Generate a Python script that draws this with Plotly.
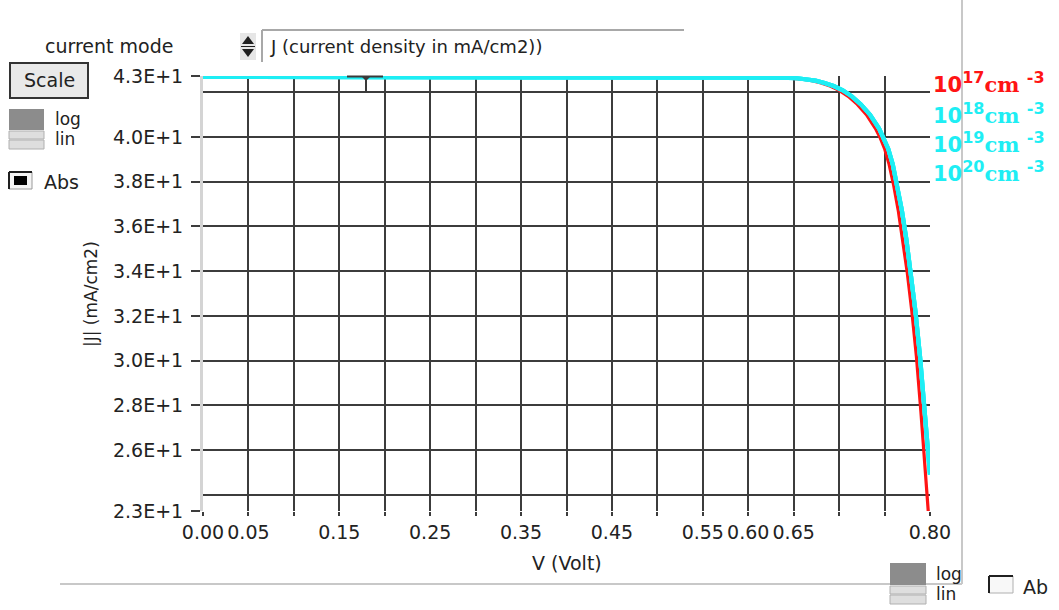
import plotly.graph_objects as go

# J-V curves for four doping levels (V in volts, |J| in mA/cm2)
V_1e17 = [0.00, 0.10, 0.20, 0.30, 0.40, 0.50, 0.60, 0.62, 0.64, 0.65, 0.66, 0.67, 0.68, 0.69,
          0.70, 0.71, 0.72, 0.73, 0.74, 0.745, 0.75, 0.755, 0.76, 0.765, 0.77, 0.775, 0.78,
          0.785, 0.79, 0.795, 0.800]
J_1e17 = [42.69, 42.69, 42.69, 42.69, 42.69, 42.69, 42.68, 42.67, 42.65, 42.63, 42.59, 42.52,
          42.42, 42.28, 42.09, 41.82, 41.46, 41.00, 40.38, 39.98, 39.48, 38.78, 37.85, 36.73,
          35.43, 33.93, 32.20, 30.20, 27.70, 25.00, 22.20]

V_1e18 = [0.00, 0.10, 0.20, 0.30, 0.40, 0.50, 0.60, 0.624, 0.644, 0.654, 0.664, 0.674, 0.684,
          0.694, 0.704, 0.714, 0.724, 0.734, 0.744, 0.749, 0.754, 0.759, 0.764, 0.769, 0.774,
          0.779, 0.784, 0.789, 0.794, 0.800]
J_1e18 = [42.69, 42.69, 42.69, 42.69, 42.69, 42.69, 42.68, 42.67, 42.65, 42.63, 42.59, 42.52,
          42.42, 42.28, 42.09, 41.82, 41.46, 41.00, 40.38, 39.98, 39.48, 38.78, 37.85, 36.73,
          35.43, 33.93, 32.20, 30.20, 27.70, 24.90]

V_1e19 = [0.00, 0.10, 0.20, 0.30, 0.40, 0.50, 0.60, 0.624, 0.644, 0.654, 0.664, 0.674, 0.684,
          0.694, 0.704, 0.714, 0.724, 0.734, 0.744, 0.749, 0.754, 0.759, 0.764, 0.769, 0.774,
          0.779, 0.784, 0.789, 0.794, 0.800]
J_1e19 = [42.69, 42.69, 42.69, 42.69, 42.69, 42.69, 42.68, 42.67, 42.65, 42.63, 42.59, 42.52,
          42.42, 42.28, 42.09, 41.82, 41.46, 41.00, 40.38, 39.98, 39.48, 38.78, 37.85, 36.73,
          35.43, 33.93, 32.20, 30.20, 27.70, 24.90]

V_1e20 = [0.00, 0.10, 0.20, 0.30, 0.40, 0.50, 0.60, 0.624, 0.644, 0.654, 0.664, 0.674, 0.684,
          0.694, 0.704, 0.714, 0.724, 0.734, 0.744, 0.749, 0.754, 0.759, 0.764, 0.769, 0.774,
          0.779, 0.784, 0.789, 0.794, 0.800]
J_1e20 = [42.69, 42.69, 42.69, 42.69, 42.69, 42.69, 42.68, 42.67, 42.65, 42.63, 42.59, 42.52,
          42.42, 42.28, 42.09, 41.82, 41.46, 41.00, 40.38, 39.98, 39.48, 38.78, 37.85, 36.73,
          35.43, 33.93, 32.20, 30.20, 27.70, 24.90]

doping_labels = ["17", "18", "19", "20"]

# axis ticks
x_tick_vals = [0.00, 0.05, 0.15, 0.25, 0.35, 0.45, 0.55, 0.60, 0.65, 0.80]
x_tick_text = ["0.00", "0.05", "0.15", "0.25", "0.35", "0.45", "0.55", "0.60", "0.65", "0.80"]
x_grid_vals = [0.05, 0.10, 0.15, 0.20, 0.25, 0.30, 0.35, 0.40, 0.45, 0.50, 0.55, 0.60, 0.65, 0.70, 0.75]
y_min, y_max = 23.27, 42.73
y_tick_vals = [23.2701, 26, 28, 30, 32, 34, 36, 38, 40, 42.7299]
y_tick_text = ["2.3E+1", "2.6E+1", "2.8E+1", "3.0E+1", "3.2E+1", "3.4E+1", "3.6E+1", "3.8E+1",
               "4.0E+1", "4.3E+1"]
y_grid_vals = [24, 26, 28, 30, 32, 34, 36, 38, 40, 42]

RED = "#ff1414"
CYAN = "#1eeef4"
INK = "#222222"
FONT = "DejaVu Sans"

W, H = 1059, 610
L, R, T, B = 203, 930, 76, 511


def px(x):
    return (x - L) / (R - L)


def py(y):
    return (B - y) / (B - T)


fig = go.Figure()
fig.add_trace(go.Scatter(x=V_1e17, y=J_1e17, mode="lines", line=dict(color=RED, width=3.2),
                         name="1e17", showlegend=False))
for vv, jj, nm in [(V_1e20, J_1e20, "1e20"), (V_1e19, J_1e19, "1e19"), (V_1e18, J_1e18, "1e18")]:
    fig.add_trace(go.Scatter(x=vv, y=jj, mode="lines", line=dict(color=CYAN, width=4.2),
                             name=nm, showlegend=False))

shapes = []
annotations = []


def rect(x0, y0, x1, y1, fill, line_color=None, lw=0):
    shapes.append(dict(type="rect", xref="paper", yref="paper",
                       x0=px(x0), x1=px(x1), y0=py(y0), y1=py(y1),
                       fillcolor=fill, line=dict(color=line_color or fill, width=lw)))


def seg(x0, y0, x1, y1, color, lw):
    shapes.append(dict(type="line", xref="paper", yref="paper",
                       x0=px(x0), x1=px(x1), y0=py(y0), y1=py(y1),
                       line=dict(color=color, width=lw)))


def path(points, fill, color=None, lw=0):
    d = "M " + " L ".join(f"{px(a)},{py(b)}" for a, b in points) + " Z"
    shapes.append(dict(type="path", xref="paper", yref="paper", path=d,
                       fillcolor=fill, line=dict(color=color or fill, width=lw)))


def text(x, y, s, size=18, color=INK, xanchor="left", family=FONT, angle=0):
    annotations.append(dict(xref="paper", yref="paper", x=px(x), y=py(y), text=s,
                            showarrow=False, xanchor=xanchor, yanchor="middle",
                            textangle=angle, font=dict(family=family, size=size, color=color)))


# panel frame lines
seg(962, 0, 962, 584, "#c8c8c8", 2)
seg(60, 584, 962, 584, "#c8c8c8", 2)

# mode selector
text(43, 46, "current mode", 19)
rect(240, 33, 256, 60, "#e6e6e6")
path([(242, 44), (254, 44), (248, 36)], "#202020")
path([(242, 49), (254, 49), (248, 57)], "#202020")
seg(241, 46.5, 255, 46.5, "#202020", 1)
seg(262, 30, 684, 30, "#a8a8a8", 2)
seg(262, 30, 262, 62, "#a8a8a8", 2)
text(268, 46, "J (current density in mA/cm2))", 18)

# Scale button
rect(10, 63, 88, 98, "#e9e9e9", "#333333", 2)
text(49, 80, "Scale", 19, xanchor="center")

# log/lin switch (left)
rect(9, 109, 44, 130, "#8c8c8c")
rect(9, 131, 44, 139, "#dedede", "#b0b0b0", 1)
rect(9, 140, 44, 149, "#dedede", "#b0b0b0", 1)
text(53, 119, "log", 17)
text(53, 139, "lin", 17)

# Abs checkbox
rect(9, 172, 32, 189, "#f4f4f4", "#9a9a9a", 1)
seg(9, 172, 32, 172, "#202020", 2)
seg(9, 172, 9, 189, "#202020", 2)
rect(14, 176, 27, 185, "#000000")
text(42, 182, "Abs", 19)

# log/lin switch (bottom right)
rect(890, 563, 926, 585, "#8c8c8c")
rect(890, 586, 926, 594, "#dedede", "#b0b0b0", 1)
rect(890, 595, 926, 604, "#dedede", "#b0b0b0", 1)
text(934, 574, "log", 17)
text(934, 594, "lin", 17)

# Ab checkbox
rect(989, 576, 1013, 593, "#f8f8f8", "#b0b0b0", 1)
seg(989, 576, 1013, 576, "#202020", 2)
seg(989, 576, 989, 593, "#202020", 2)
text(1021, 587, "Ab", 19)

# cursor marker on top edge
seg(347, 76.5, 383, 76.5, "#3a3a3a", 2)
path([(361, 76), (371, 76), (366, 81)], "#3a3a3a")
seg(366, 80, 366, 92, "#3a3a3a", 2)

# axis titles
text(567, 563, "V (Volt)", 19, xanchor="center")
annotations.append(dict(xref="paper", yref="paper", x=px(91), y=py(294), text="|J| (mA/cm2)",
                        showarrow=False, textangle=-90, xanchor="center", yanchor="middle",
                        font=dict(family=FONT, size=17, color=INK)))

# doping labels
label_y = [83, 113, 142, 171]
label_col = [RED, CYAN, CYAN, CYAN]
for lab, yy, cc in zip(doping_labels, label_y, label_col):
    s = (f"<b>10<sup><span style=\"font-size:16px\">{lab}</span></sup>"
         f"<span style=\"font-family:'DejaVu Serif'\">cm</span>"
         f" <sup><span style=\"font-size:16px\">-3</span></sup></b>")
    text(931, yy, s, 21, color=cc)

fig.update_layout(
    width=W, height=H, autosize=False,
    margin=dict(l=L, r=W - R, t=T, b=H - B, pad=0),
    paper_bgcolor="white", plot_bgcolor="white",
    shapes=shapes, annotations=annotations,
    xaxis=dict(range=[0, 0.8], tickmode="array", tickvals=x_tick_vals, ticktext=x_tick_text,
               tickangle=0, showgrid=False, zeroline=False, showline=False,
               ticks="outside", ticklen=4, tickwidth=2, tickcolor="#3c3c3c",
               tickfont=dict(family=FONT, size=19, color=INK),
               minor=dict(tickmode="array", tickvals=x_grid_vals, showgrid=True,
                          gridcolor="#3c3c3c", gridwidth=2, ticks="outside", ticklen=4,
                          tickwidth=2, tickcolor="#3c3c3c")),
    yaxis=dict(range=[y_min, y_max], tickmode="array", tickvals=y_tick_vals, ticktext=y_tick_text,
               showgrid=False, zeroline=False, showline=True, linecolor="#d4d4d4", linewidth=3,
               ticks="outside", ticklen=9, tickwidth=1.5, tickcolor="#3c3c3c",
               ticklabelstandoff=4,
               tickfont=dict(family=FONT, size=19, color=INK),
               minor=dict(tickmode="array", tickvals=y_grid_vals, showgrid=True,
                          gridcolor="#3c3c3c", gridwidth=1.5, ticks="")),
)

fig.write_html("out.html")
